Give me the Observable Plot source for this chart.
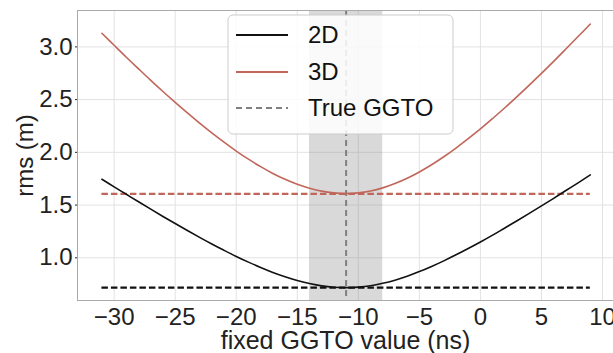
<!DOCTYPE html>
<html><head><meta charset="utf-8">
<script src="https://cdn.jsdelivr.net/npm/d3@7"></script>
<script src="https://cdn.jsdelivr.net/npm/@observablehq/plot@0.6"></script>
<style>
body{margin:0;background:#fff;}
#wrap{position:relative;width:613px;height:353px;font-family:"Liberation Sans",Arial,Helvetica,sans-serif;}
</style>
</head><body><div id="wrap"></div>
<script>
// fixed GGTO values (ns)
const ggto = [-31,-30,-29,-28,-27,-26,-25,-24,-23,-22,-21,-20,-19,-18,-17,-16,-15,-14,-13,-12,-11,
              -10,-9,-8,-7,-6,-5,-4,-3,-2,-1,0,1,2,3,4,5,6,7,8,9];
// rms (m), 2D
const rms2D = [1.745,1.673,1.602,1.531,1.461,1.392,1.325,1.259,1.194,1.131,1.071,1.013,0.959,0.908,0.861,0.820,0.784,0.756,0.734,0.721,0.717,
               0.722,0.735,0.758,0.788,0.825,0.869,0.918,0.971,1.028,1.088,1.150,1.215,1.283,1.351,1.421,1.492,1.564,1.638,1.711,1.786];
// rms (m), 3D
const rms3D = [3.129,3.015,2.902,2.792,2.683,2.577,2.474,2.374,2.277,2.184,2.096,2.012,1.935,1.864,1.800,1.744,1.697,1.660,1.632,1.616,1.610,
               1.616,1.634,1.663,1.704,1.754,1.814,1.882,1.958,2.040,2.129,2.222,2.321,2.423,2.529,2.638,2.749,2.863,2.980,3.098,3.217];
// rms at true GGTO
const trueRms2D = 0.717;
const trueRms3D = 1.607;
const trueGGTO = -11;
const bandRange = [-14, -8];
const xTicks = [-30,-25,-20,-15,-10,-5,0,5,10];
const yTicks = [1.0,1.5,2.0,2.5,3.0];
const legendLabels = ["2D","3D","True GGTO"];
const legendColors = ["#111111","#c1665a","#808080"];
const legendDash = [null,null,"6,4"];

const rows = ggto.map((x,i)=>({x, r2: rms2D[i], r3: rms3D[i]}));
const fmtX = d => d < 0 ? "\u2212" + Math.abs(d) : String(d);
const font = '"Liberation Sans",Arial,Helvetica,sans-serif';

const chart = Plot.plot({
  width: 613, height: 353,
  marginLeft: 77, marginRight: 0, marginTop: 10, marginBottom: 53,
  style: {fontFamily: font, fontSize: "24px", color: "#222", background: "#fff", overflow: "visible"},
  x: {domain: [-33, 10.9]},
  y: {domain: [0.595, 3.345]},
  marks: [
    Plot.gridX(xTicks, {stroke: "#e2e2e2", strokeOpacity: 1, strokeWidth: 1}),
    Plot.gridY(yTicks, {stroke: "#e2e2e2", strokeOpacity: 1, strokeWidth: 1}),
    Plot.rect([{a: bandRange[0], b: bandRange[1]}], {x1: "a", x2: "b", fill: "#808080", fillOpacity: 0.3}),
    Plot.ruleX([trueGGTO], {stroke: legendColors[2], strokeWidth: 2, strokeDasharray: "6,4"}),
    Plot.ruleY([{y: trueRms3D, a: ggto[0], b: ggto[ggto.length-1]}], {y: "y", x1: "a", x2: "b", stroke: legendColors[1], strokeWidth: 2.2, strokeDasharray: "6.5,3"}),
    Plot.ruleY([{y: trueRms2D, a: ggto[0], b: ggto[ggto.length-1]}], {y: "y", x1: "a", x2: "b", stroke: legendColors[0], strokeWidth: 2.2, strokeDasharray: "6.5,3"}),
    Plot.line(rows, {x: "x", y: "r3", stroke: legendColors[1], strokeWidth: 1.6, curve: "catmull-rom"}),
    Plot.line(rows, {x: "x", y: "r2", stroke: legendColors[0], strokeWidth: 1.6, curve: "catmull-rom"}),
    Plot.frame({stroke: "#aaaaaa", strokeWidth: 1}),
    Plot.axisX(xTicks, {tickSize: 0, tickPadding: 7, tickFormat: fmtX, fontSize: 24,
      label: null}),
    Plot.axisX({ticks: [], tickSize: 0, fontSize: 25,
      label: "fixed GGTO value (ns)", labelAnchor: "center", labelOffset: 48, labelArrow: "none"}),
    Plot.axisY(yTicks, {tickSize: 2, tickPadding: 3, tickFormat: d => d.toFixed(1), fontSize: 24,
      label: "rms (m)", labelAnchor: "center", labelOffset: 62, labelArrow: "none"})
  ]
});
const wrap = document.getElementById("wrap");
wrap.appendChild(chart);

// legend overlay
const leg = d3.select(wrap).append("svg")
  .attr("width", 227).attr("height", 121)
  .style("position", "absolute").style("left", "227px").style("top", "14px")
  .style("font-family", font);
leg.append("rect").attr("x", 1).attr("y", 1).attr("width", 225).attr("height", 119).attr("rx", 5)
  .attr("fill", "#fff").attr("fill-opacity", 0.85).attr("stroke", "#cccccc");
const rowY = [21, 58, 94];
legendLabels.forEach((lab, i) => {
  const l = leg.append("line").attr("x1", 9).attr("x2", 61).attr("y1", rowY[i]).attr("y2", rowY[i])
    .attr("stroke", legendColors[i]).attr("stroke-width", 2);
  if (legendDash[i]) l.attr("stroke-dasharray", legendDash[i]);
  leg.append("text").attr("x", 81).attr("y", rowY[i]).attr("dy", "0.35em")
    .attr("font-size", 24).attr("fill", "#111").text(lab);
});
</script>
</body></html>
